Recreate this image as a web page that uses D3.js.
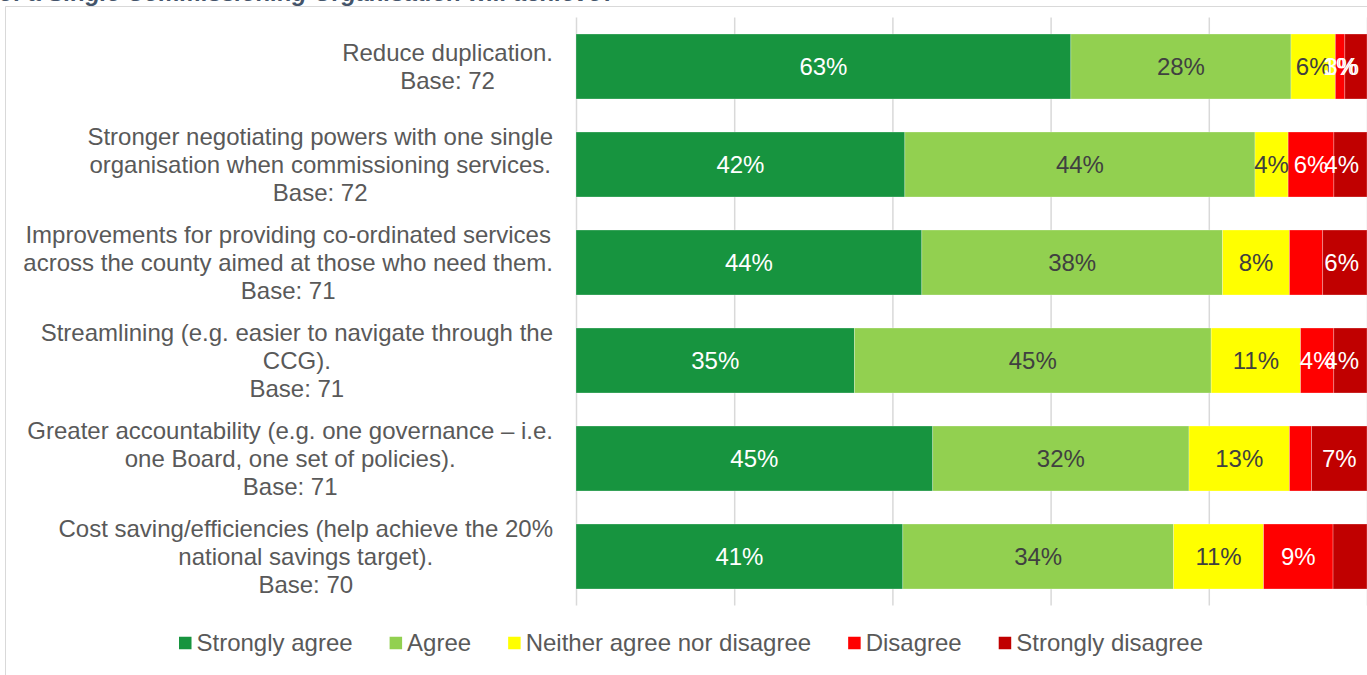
<!DOCTYPE html>
<html>
<head>
<meta charset="utf-8">
<script src="https://cdn.jsdelivr.net/npm/d3@7"></script>
<style>
  html, body { margin: 0; padding: 0; background: #fff; }
  svg { display: block; font-family: "Liberation Sans", Arial, sans-serif; }
</style>
</head>
<body>
<svg id="chart" width="1367" height="675"></svg>
<script>
// ---- data ----
const titleText = "of a Single Commissioning Organisation will achieve?";
const categories = [
  ["Reduce duplication.", "Base: 72"],
  ["Stronger negotiating powers with one single", "organisation when commissioning services.", "Base: 72"],
  ["Improvements for providing co-ordinated services", "across the county aimed at those who need them.", "Base: 71"],
  ["Streamlining (e.g. easier to navigate through the", "CCG).", "Base: 71"],
  ["Greater accountability (e.g. one governance \u2013 i.e.", "one Board, one set of policies).", "Base: 71"],
  ["Cost saving/efficiencies (help achieve the 20%", "national savings target).", "Base: 70"]
];
const seriesNames = ["Strongly agree", "Agree", "Neither agree nor disagree", "Disagree", "Strongly disagree"];
const stronglyAgree = [62.5, 41.7, 43.7, 35.2, 45.1, 41.4];
const agree         = [27.8, 44.4, 38.0, 45.1, 32.4, 34.3];
const neither       = [5.6, 4.2, 8.45, 11.3, 12.7, 11.4];
const disagree      = [1.2, 5.8, 4.2, 4.2, 2.8, 8.8];
const stronglyDis   = [2.8, 4.2, 5.6, 4.2, 7.0, 4.3];
// labels that were not shown in the original chart: [row, series]
const hiddenLabels = [[2, 3], [4, 3], [5, 4]];
const xTicks = [0, 20, 40, 60, 80, 100];

// ---- styles ----
const colors = ["#17943f", "#92d050", "#ffff00", "#ff0000", "#c00000"];
const labelColors = ["#ffffff", "#404040", "#404040", "#ffffff", "#ffffff"];
const textColor = "#595959";

const svg = d3.select("#chart");
const W = 1367, H = 675;
const plot = { left: 576, right: 1367, top: 17.5, bottom: 605.5 };

// frame
svg.append("path")
  .attr("d", `M5.5,${H} V6.5 H${W}`)
  .attr("fill", "none").attr("stroke", "#d9d9d9").attr("stroke-width", 1);

// title (cut off at the top)
svg.append("text")
  .attr("x", -1).attr("y", 1)
  .attr("fill", "#44546a")
  .attr("font-size", 24).attr("font-weight", "bold").attr("font-style", "italic")
  .text(titleText);

const series = seriesNames.map((name, i) => ({
  name, color: colors[i], labelColor: labelColors[i],
  values: [stronglyAgree, agree, neither, disagree, stronglyDis][i]
}));

const rows = categories.map((lines, r) => {
  let x0 = 0;
  const segs = series.map((s, si) => {
    const v = s.values[r];
    const seg = { r, si, x0, x1: x0 + v, v };
    x0 += v;
    return seg;
  });
  const total = x0;
  segs.forEach(sg => { sg.x0 = sg.x0 / total * 100; sg.x1 = sg.x1 / total * 100; });
  return { r, lines, segs };
});

const x = d3.scaleLinear().domain([0, 100]).range([plot.left, plot.right]);
const y = d3.scaleBand().domain(d3.range(categories.length))
  .range([plot.top, plot.bottom]).paddingInner(0.337).paddingOuter(0.1685);

// gridlines via axis
const gAxis = svg.append("g")
  .attr("transform", `translate(0,${plot.bottom})`)
  .call(d3.axisBottom(x).tickValues(xTicks).tickSize(-(plot.bottom - plot.top)).tickFormat(""));
gAxis.select(".domain").remove();
gAxis.selectAll(".tick line").attr("stroke", "#d9d9d9").attr("stroke-width", 1.5);

// bars
const gRows = svg.append("g").selectAll("g").data(rows).join("g");
gRows.selectAll("rect").data(d => d.segs).join("rect")
  .attr("x", d => x(d.x0))
  .attr("width", d => x(d.x1) - x(d.x0))
  .attr("y", d => y(d.r))
  .attr("height", y.bandwidth())
  .attr("fill", d => colors[d.si])
  .attr("stroke", "#ffffff").attr("stroke-opacity", 0.35).attr("stroke-width", 0.75);

// data labels
const isHidden = d => hiddenLabels.some(h => h[0] === d.r && h[1] === d.si);
gRows.selectAll("text").data(d => d.segs.filter(s => !isHidden(s))).join("text")
  .attr("y", d => y(d.r) + y.bandwidth() / 2)
  .attr("dy", "0.35em")
  .attr("text-anchor", "middle")
  .attr("font-size", 24)
  .attr("fill", d => labelColors[d.si])
  .text(d => Math.round(d.v) + "%")
  .each(function (d) {
    const w = this.getComputedTextLength();
    const cx = Math.min((x(d.x0) + x(d.x1)) / 2, plot.right - w / 2 - 8);
    d3.select(this).attr("x", cx);
  });

// category labels (centre-aligned lines, block right-aligned)
const labelRight = 553;
const lineH = 27.6;
rows.forEach(row => {
  const g = svg.append("g");
  const texts = row.lines.map(l => g.append("text")
    .attr("font-size", 24).attr("fill", textColor).attr("text-anchor", "middle").text(l));
  const maxW = d3.max(texts, t => t.node().getComputedTextLength());
  const cx = labelRight - maxW / 2;
  const cy = y(row.r) + y.bandwidth() / 2;
  const n = row.lines.length;
  texts.forEach((t, i) => {
    t.attr("x", cx).attr("y", cy + (i - (n - 1) / 2) * lineH).attr("dy", "0.35em");
  });
});

// legend
const legendY = 643, sq = 12.5, gapText = 5, gapItem = 37;
const gLeg = svg.append("g");
const items = series.map(s => {
  const g = gLeg.append("g");
  g.append("rect").attr("width", sq).attr("height", sq).attr("y", -sq / 2).attr("fill", s.color);
  const t = g.append("text").attr("x", sq + gapText).attr("dy", "0.35em")
    .attr("font-size", 24).attr("fill", textColor).text(s.name);
  return { g, w: sq + gapText + t.node().getComputedTextLength() };
});
const totalW = d3.sum(items, d => d.w) + gapItem * (items.length - 1);
let lx = 691 - totalW / 2;
items.forEach(it => {
  it.g.attr("transform", `translate(${lx},${legendY})`);
  lx += it.w + gapItem;
});
</script>
</body>
</html>
